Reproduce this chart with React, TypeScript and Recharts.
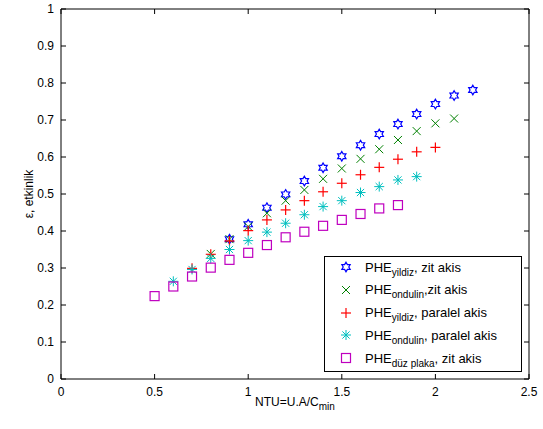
import { Legend, Scatter, ScatterChart, XAxis, YAxis } from 'recharts';

const ntuYildizZit = [0.9, 1.0, 1.1, 1.2, 1.3, 1.4, 1.5, 1.6, 1.7, 1.8, 1.9, 2.0, 2.1, 2.2];
const epsYildizZit = [0.378, 0.418, 0.463, 0.499, 0.535, 0.571, 0.602, 0.632, 0.662, 0.689, 0.716, 0.743, 0.766, 0.781];

const ntuOndulinZit = [0.8, 0.9, 1.0, 1.1, 1.2, 1.3, 1.4, 1.5, 1.6, 1.7, 1.8, 1.9, 2.0, 2.1];
const epsOndulinZit = [0.338, 0.378, 0.412, 0.448, 0.482, 0.511, 0.541, 0.569, 0.595, 0.621, 0.646, 0.67, 0.691, 0.704];

const ntuYildizParalel = [0.7, 0.8, 0.9, 1.0, 1.1, 1.2, 1.3, 1.4, 1.5, 1.6, 1.7, 1.8, 1.9, 2.0];
const epsYildizParalel = [0.299, 0.337, 0.373, 0.401, 0.43, 0.457, 0.482, 0.506, 0.529, 0.552, 0.572, 0.594, 0.614, 0.626];

const ntuOndulinParalel = [0.6, 0.7, 0.8, 0.9, 1.0, 1.1, 1.2, 1.3, 1.4, 1.5, 1.6, 1.7, 1.8, 1.9];
const epsOndulinParalel = [0.264, 0.296, 0.326, 0.35, 0.374, 0.397, 0.421, 0.444, 0.466, 0.482, 0.504, 0.52, 0.538, 0.547];

const ntuDuzPlaka = [0.5, 0.6, 0.7, 0.8, 0.9, 1.0, 1.1, 1.2, 1.3, 1.4, 1.5, 1.6, 1.7, 1.8];
const epsDuzPlaka = [0.224, 0.25, 0.277, 0.301, 0.322, 0.341, 0.362, 0.383, 0.398, 0.414, 0.43, 0.446, 0.461, 0.47];

const xTicks = [0, 0.5, 1, 1.5, 2, 2.5];
const yTicks = [0, 0.1, 0.2, 0.3, 0.4, 0.5, 0.6, 0.7, 0.8, 0.9, 1];

const FONT = '"Liberation Sans", Arial, sans-serif';

const BLUE = '#0000ff';
const GREEN = '#008000';
const RED = '#ff0000';
const CYAN = '#00bfbf';
const MAGENTA = '#bf00bf';

const toPoints = (xs: number[], ys: number[]) => xs.map((x, i) => ({ x, y: ys[i] }));

type MarkerKind = 'hexagram' | 'cross' | 'plus' | 'star' | 'square';

function Marker({ kind, cx, cy, color }: { kind: MarkerKind; cx: number; cy: number; color: string }) {
  if (kind === 'hexagram') {
    const pts: string[] = [];
    for (let i = 0; i < 12; i++) {
      const r = i % 2 === 0 ? 4.8 : 2.8;
      const a = (Math.PI / 6) * i - Math.PI / 2;
      pts.push(`${cx + r * Math.cos(a)},${cy + r * Math.sin(a)}`);
    }
    return <polygon points={pts.join(' ')} fill="none" stroke={color} strokeWidth={1.2} />;
  }
  if (kind === 'cross') {
    return (
      <g stroke={color} strokeWidth={1}>
        <line x1={cx - 4} y1={cy - 4} x2={cx + 4} y2={cy + 4} />
        <line x1={cx - 4} y1={cy + 4} x2={cx + 4} y2={cy - 4} />
      </g>
    );
  }
  if (kind === 'plus') {
    return (
      <g stroke={color} strokeWidth={1.2}>
        <line x1={cx - 5} y1={cy} x2={cx + 5} y2={cy} />
        <line x1={cx} y1={cy - 5} x2={cx} y2={cy + 5} />
      </g>
    );
  }
  if (kind === 'star') {
    return (
      <g stroke={color} strokeWidth={1}>
        <line x1={cx - 5} y1={cy} x2={cx + 5} y2={cy} />
        <line x1={cx} y1={cy - 5} x2={cx} y2={cy + 5} />
        <line x1={cx - 3.6} y1={cy - 3.6} x2={cx + 3.6} y2={cy + 3.6} />
        <line x1={cx - 3.6} y1={cy + 3.6} x2={cx + 3.6} y2={cy - 3.6} />
      </g>
    );
  }
  return <rect x={cx - 4.5} y={cy - 4.5} width={9} height={9} fill="none" stroke={color} strokeWidth={1.2} />;
}

const shapeOf = (kind: MarkerKind, color: string) => (props: any) =>
  <Marker kind={kind} cx={props.cx} cy={props.cy} color={color} />;

const legendRows: { kind: MarkerKind; color: string; sub: string; rest: string }[] = [
  { kind: 'hexagram', color: BLUE, sub: 'yildiz', rest: ', zit akis' },
  { kind: 'cross', color: GREEN, sub: 'ondulin', rest: ',zit akis' },
  { kind: 'plus', color: RED, sub: 'yildiz', rest: ', paralel akis' },
  { kind: 'star', color: CYAN, sub: 'ondulin', rest: ', paralel akis' },
  { kind: 'square', color: MAGENTA, sub: 'düz plaka', rest: ', zit akis' },
];

function LegendBox() {
  return (
    <div
      style={{
        width: 196,
        height: 114,
        border: '1px solid #000',
        background: '#fff',
        fontFamily: FONT,
        fontSize: 13,
        color: '#000',
        position: 'relative',
      }}
    >
      {legendRows.map((row, i) => (
        <div
          key={i}
          style={{ position: 'absolute', left: 0, top: 1 + i * 22.8, height: 18, display: 'flex', alignItems: 'center', whiteSpace: 'nowrap' }}
        >
          <svg width={40} height={18} style={{ display: 'block' }}>
            <Marker kind={row.kind} cx={21} cy={9} color={row.color} />
          </svg>
          <span>
            PHE
            <span style={{ fontSize: 10, position: 'relative', top: 4 }}>{row.sub}</span>
            {row.rest}
          </span>
        </div>
      ))}
    </div>
  );
}

const axisStroke = { stroke: '#000' };

export default function App() {
  return (
    <div style={{ position: 'absolute', left: 0, top: 0, width: 543, height: 429, background: '#fff' }}>
      <ScatterChart width={543} height={429} margin={{ top: 8, right: 13, bottom: 20, left: 0 }}>
        <XAxis
          xAxisId="bottom"
          type="number"
          dataKey="x"
          domain={[0, 2.5]}
          ticks={xTicks}
          height={30}
          tickSize={-5}
          tickMargin={13}
          axisLine={axisStroke}
          tickLine={axisStroke}
          tick={{ fill: '#000', fontSize: 12, fontFamily: FONT }}
          label={{
            content: ({ viewBox }: any) => (
              <text x={viewBox.x + viewBox.width / 2} y={406} textAnchor="middle" fontSize={12} fontFamily={FONT} fill="#000">
                NTU=U.A/C
                <tspan fontSize={10} dy={4}>min</tspan>
              </text>
            ),
          }}
        />
        <XAxis
          xAxisId="top"
          orientation="top"
          type="number"
          dataKey="x"
          domain={[0, 2.5]}
          ticks={xTicks}
          height={1}
          tickSize={-5}
          axisLine={axisStroke}
          tickLine={axisStroke}
          tick={() => <g />}
        />
        <YAxis
          yAxisId="left"
          type="number"
          dataKey="y"
          domain={[0, 1]}
          ticks={yTicks}
          width={61}
          tickSize={-5}
          tickMargin={12}
          axisLine={axisStroke}
          tickLine={axisStroke}
          tick={{ fill: '#000', fontSize: 12, fontFamily: FONT }}
          label={{
            content: ({ viewBox }: any) => (
              <text
                x={33}
                y={viewBox.y + viewBox.height / 2}
                transform={`rotate(-90, 33, ${viewBox.y + viewBox.height / 2})`}
                textAnchor="middle"
                fontSize={12}
                fontFamily={FONT}
                fill="#000"
              >
                ε, etkinlik
              </text>
            ),
          }}
        />
        <YAxis
          yAxisId="right"
          orientation="right"
          type="number"
          dataKey="y"
          domain={[0, 1]}
          ticks={yTicks}
          width={1}
          tickSize={-5}
          axisLine={axisStroke}
          tickLine={axisStroke}
          tick={() => <g />}
        />
        <Legend
          layout="vertical"
          align="center"
          verticalAlign="middle"
          wrapperStyle={{ position: 'absolute', left: 324, top: 256, width: 198, height: 116 }}
          content={() => <LegendBox />}
        />
        <Scatter
          name="PHE yildiz, zit akis"
          xAxisId="bottom"
          yAxisId="left"
          data={toPoints(ntuYildizZit, epsYildizZit)}
          shape={shapeOf('hexagram', BLUE)}
          isAnimationActive={false}
        />
        <Scatter
          name="PHE ondulin, zit akis"
          xAxisId="bottom"
          yAxisId="left"
          data={toPoints(ntuOndulinZit, epsOndulinZit)}
          shape={shapeOf('cross', GREEN)}
          isAnimationActive={false}
        />
        <Scatter
          name="PHE yildiz, paralel akis"
          xAxisId="bottom"
          yAxisId="left"
          data={toPoints(ntuYildizParalel, epsYildizParalel)}
          shape={shapeOf('plus', RED)}
          isAnimationActive={false}
        />
        <Scatter
          name="PHE ondulin, paralel akis"
          xAxisId="bottom"
          yAxisId="left"
          data={toPoints(ntuOndulinParalel, epsOndulinParalel)}
          shape={shapeOf('star', CYAN)}
          isAnimationActive={false}
        />
        {/* same [0,2.5]x[0,1] domains; bound to the top/right axes so the box axes render */}
        <Scatter
          name="PHE düz plaka, zit akis"
          xAxisId="top"
          yAxisId="right"
          data={toPoints(ntuDuzPlaka, epsDuzPlaka)}
          shape={shapeOf('square', MAGENTA)}
          isAnimationActive={false}
        />
      </ScatterChart>
    </div>
  );
}
